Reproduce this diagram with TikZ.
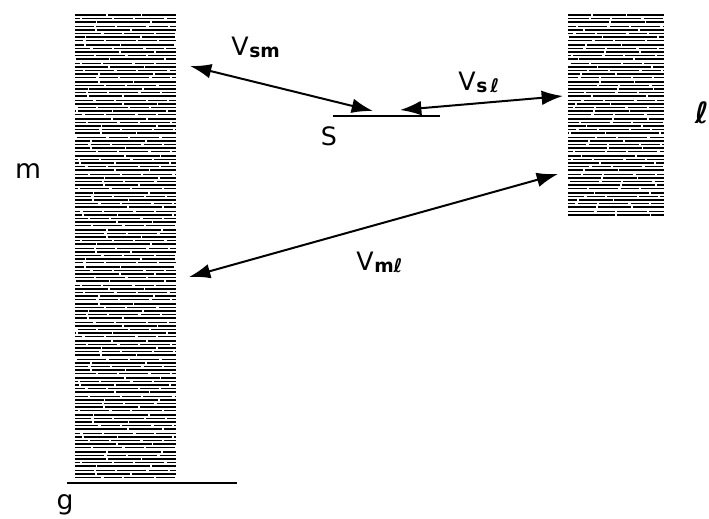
\documentclass[tikz,border=0pt]{standalone}
\usepackage{fontspec}
\setmainfont{DejaVu Sans}
\usetikzlibrary{arrows.meta}
\tikzset{
  hatchA/.style={line width=1.4pt, dash pattern=on 40pt off 1.5pt on 25pt off 1pt},
  hatchB/.style={line width=0.8pt, dash pattern=on 22pt off 2pt on 14pt off 1.5pt},
  level/.style={line width=1.1pt},
  coupling/.style={line width=1.5pt, {Latex[length=16pt,width=11pt]}-{Latex[length=16pt,width=11pt]}},
  big/.style={font=\fontsize{19}{22}\selectfont, inner sep=0pt},
  mid/.style={font=\fontsize{20}{22}\selectfont, inner sep=0pt},
}
\newcommand{\ellch}{\textbf{ℓ}}
\newcommand{\Vlab}[1]{V\kern0.5pt\raisebox{-2pt}{\fontsize{14}{14}\selectfont\bfseries #1}}
\begin{document}
\begin{tikzpicture}[x=0.75pt,y=-0.75pt]
\useasboundingbox (0,0) rectangle (709,518);
% left band m
\foreach \y [count=\i] in {15,18.7,...,480} {
  \pgfmathsetmacro{\ph}{mod(\i*17,60)}
  \ifodd\i \draw[hatchA, dash phase=\ph pt] (75,\y) -- (176,\y);
  \else \draw[hatchB, dash phase=\ph pt] (75,\y) -- (176,\y); \fi
}
% right band l
\foreach \y [count=\i] in {15,18.7,...,218} {
  \pgfmathsetmacro{\ph}{mod(\i*23,60)}
  \ifodd\i \draw[hatchA, dash phase=\ph pt] (568,\y) -- (664,\y);
  \else \draw[hatchB, dash phase=\ph pt] (568,\y) -- (664,\y); \fi
}
% levels
\coordinate (g1) at (67,483);
\coordinate (g2) at (237,483);
\draw[level] (g1) -- (g2);
\coordinate (s1) at (333,116);
\coordinate (s2) at (440,116);
\draw[level] (s1) -- (s2);
% arrow endpoints
\coordinate (smA) at (190,66);
\coordinate (smB) at (373,111);
\coordinate (slA) at (400,110);
\coordinate (slB) at (563,96);
\coordinate (mlA) at (189,277);
\coordinate (mlB) at (558,174);
\draw[coupling] (smA) -- (smB);
\draw[coupling] (slA) -- (slB);
\draw[coupling] (mlA) -- (mlB);
% labels
\node[big, anchor=base west] (Vsm) at (231,55) {\Vlab{sm}};
\node[big, anchor=base west] (Vsl) at (458,90) {\Vlab{s\,\ellch}};
\node[big, anchor=base west] (Vml) at (356,270) {\Vlab{m\ellch}};
\node[big, anchor=base] (S) at (329,145) {S};
\node[mid, anchor=base] (m) at (28,178) {m};
\node[mid, anchor=base] (g) at (65,509) {g};
\node[font=\fontsize{22}{24}\selectfont\bfseries, inner sep=0pt, anchor=base east] (l) at (709,123) {ℓ};
\end{tikzpicture}
\end{document}
